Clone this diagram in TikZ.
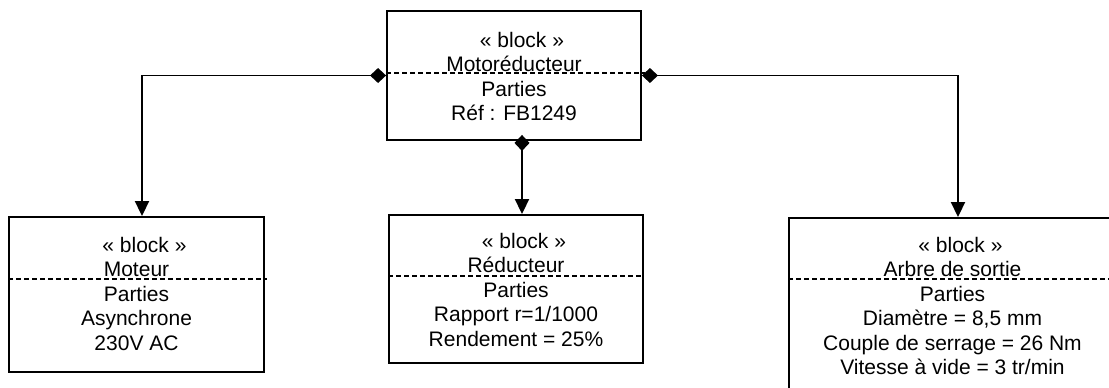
\documentclass[tikz,border=0pt]{standalone}
\usepackage{fontspec}
\setmainfont{Liberation Sans}
\usetikzlibrary{arrows.meta}
\begin{document}
\begin{tikzpicture}[x=1pt,y=-1pt,
  blockbox/.style={draw,line width=1.9pt,rectangle,inner sep=0pt},
  blocktext/.style={align=center,inner sep=0pt,anchor=base,font=\fontsize{21}{24.5}\selectfont},
  sepline/.style={line width=1.4pt,dash pattern=on 5pt off 3pt},
  compo/.style={line width=1.9pt,{Diamond[length=16pt,width=15pt]}-{Triangle[length=15pt,width=14pt]}}
]
\useasboundingbox (0,0) rectangle (1109,388);
\clip (0,0) rectangle (1109,388);
% boxes
\node[blockbox,minimum width=254pt,minimum height=129pt] (top) at (514,75.5) {};
\node[blockbox,minimum width=255pt,minimum height=155pt] (mot) at (136.5,294.5) {};
\node[blockbox,minimum width=254pt,minimum height=148pt] (red) at (516,289) {};
\node[blockbox,minimum width=327pt,minimum height=190pt] (arb) at (952.5,313) {};
% separators
\draw[sepline] ([yshift=-63pt]top.north west) -- ([xshift=3pt,yshift=-63pt]top.north east);
\draw[sepline] ([yshift=-63pt]mot.north west) -- ([xshift=2pt,yshift=-63pt]mot.north east);
\draw[sepline] ([yshift=-62pt]red.north west) -- ([yshift=-62pt]red.north east);
\draw[sepline] ([yshift=-62pt]arb.north west) -- ([yshift=-62pt]arb.north east);
% texts (anchored at the baseline of the last line)
\node[blocktext] (ttop) at (514,120.5) {\hspace*{16pt}« block »\\Motoréducteur\\Parties\\Réf : FB1249};
\node[blocktext] (tmot) at (136.5,350) {\hspace*{16pt}« block »\\Moteur\\Parties\\Asynchrone\\230V AC};
\node[blocktext] (tred) at (516,346) {\hspace*{16pt}« block »\\Réducteur\\Parties\\Rapport r=1/1000\\Rendement = 25\%};
\node[blocktext] (tarb) at (952.5,374.5) {\hspace*{16pt}« block »\\Arbre de sortie\\Parties\\Diamètre = 8,5 mm\\Couple de serrage = 26 Nm\\Vitesse à vide = 3 tr/min};
% connectors
\draw[compo] (top.west) -| ([xshift=5.5pt]mot.north);
\draw[compo] (top.east) -| ([xshift=5.5pt]arb.north);
\draw[compo] ([xshift=8pt,yshift=6pt]top.south) -- ([xshift=8pt]top.south |- red.north);
\end{tikzpicture}
\end{document}
